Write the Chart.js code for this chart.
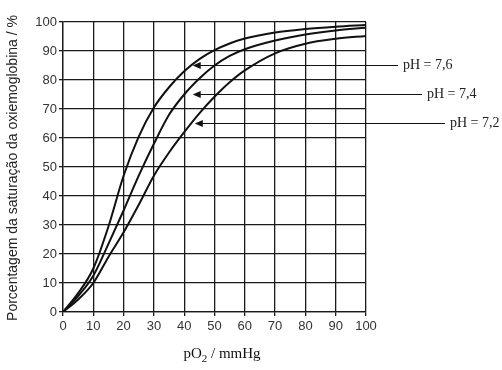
<!DOCTYPE html>
<html><head><meta charset="utf-8">
<script src="https://cdn.jsdelivr.net/npm/chart.js@4/dist/chart.umd.min.js"></script>
<style>html,body{margin:0;padding:0;background:#fff}canvas{display:block}</style>
</head><body>
<canvas id="c" width="502" height="370"></canvas>
<script>
// ---- data ----
const pO2      = [0, 5, 10, 15, 20, 25, 30, 35, 40, 45, 50, 55, 60, 70, 80, 90, 100];
const satPH76  = [0, 6.5, 15, 29.5, 47, 60.5, 70.5, 77.5, 83, 87.2, 90.3, 92.6, 94.3, 96.4, 97.6, 98.4, 99];
const satPH74  = [0, 5.5, 12.5, 23.5, 35, 47, 58, 68, 75, 80.5, 85, 88.3, 90.6, 93.6, 95.7, 97.1, 98];
const satPH72  = [0, 4.3, 10, 19, 27.5, 37, 47, 55, 62, 68.5, 74.2, 79.2, 83.3, 89.2, 92.5, 94.2, 95.2];
const xTickValues = [0, 10, 20, 30, 40, 50, 60, 70, 80, 90, 100];
const yTickValues = [0, 10, 20, 30, 40, 50, 60, 70, 80, 90, 100];
const phLabels   = ['pH = 7,6', 'pH = 7,4', 'pH = 7,2'];
const arrowSat   = [85, 75, 65];
const arrowTipPO2 = [42.8, 42.8, 43.5];
const yTitle = 'Porcentagem da saturação da oxiemoglobina / %';

const INK = '#111';
const toPts = ys => pO2.map((x, i) => ({x, y: ys[i]}));

const overlay = {
  id: 'overlay',
  afterDraw(chart) {
    const ctx = chart.ctx, xs = chart.scales.x, ys = chart.scales.y;
    ctx.save();
    ctx.fillStyle = '#222';
    ctx.font = '14px "Liberation Sans", Arial, sans-serif';
    ctx.textAlign = 'center'; ctx.textBaseline = 'middle';
    ctx.translate(13, 168); ctx.rotate(-Math.PI / 2);
    ctx.fillText(yTitle, 0, 0);
    ctx.restore();

    ctx.save();
    ctx.fillStyle = '#111';
    ctx.textBaseline = 'alphabetic'; ctx.textAlign = 'left';
    const f1 = '15px "Liberation Serif", "Times New Roman", serif';
    const f2 = '11px "Liberation Serif", "Times New Roman", serif';
    ctx.font = f1; const w1 = ctx.measureText('pO').width;
    ctx.font = f2; const w2 = ctx.measureText('2').width;
    ctx.font = f1; const w3 = ctx.measureText(' / mmHg').width;
    let x0 = 222 - (w1 + w2 + w3) / 2, base = 358;
    ctx.font = f1; ctx.fillText('pO', x0, base);
    ctx.font = f2; ctx.fillText('2', x0 + w1, base + 4);
    ctx.font = f1; ctx.fillText(' / mmHg', x0 + w1 + w2, base);
    ctx.restore();

    const lineEnds = [398, 422, 445];
    ctx.save();
    ctx.strokeStyle = INK; ctx.fillStyle = INK; ctx.lineWidth = 1.2;
    ctx.font = '14px "Liberation Serif", "Times New Roman", serif';
    ctx.textBaseline = 'middle'; ctx.textAlign = 'left';
    phLabels.forEach((lab, i) => {
      const y = ys.getPixelForValue(arrowSat[i]);
      const tip = xs.getPixelForValue(arrowTipPO2[i]);
      ctx.beginPath(); ctx.moveTo(tip + 6, y); ctx.lineTo(lineEnds[i], y); ctx.stroke();
      ctx.beginPath(); ctx.moveTo(tip, y); ctx.lineTo(tip + 8, y - 3.5); ctx.lineTo(tip + 8, y + 3.5); ctx.closePath(); ctx.fill();
      ctx.fillStyle = '#222';
      ctx.fillText(lab, lineEnds[i] + 5, y);
      ctx.fillStyle = INK;
    });
    ctx.restore();
  }
};

const ds = (data) => ({
  data: toPts(data), borderColor: INK, borderWidth: 2, pointRadius: 0,
  fill: false, cubicInterpolationMode: 'monotone'
});

new Chart(document.getElementById('c'), {
  type: 'line',
  data: { datasets: [ds(satPH76), ds(satPH74), ds(satPH72)] },
  options: {
    responsive: false, animation: false, devicePixelRatio: 1,
    layout: { padding: { top: 22, right: 136, left: 0, bottom: 0 } },
    plugins: { legend: { display: false }, tooltip: { enabled: false } },
    scales: {
      x: {
        type: 'linear', min: 0, max: 100,
        afterBuildTicks: s => { s.ticks = xTickValues.map(v => ({value: v})); },
        afterFit: s => { s.height = 58; },
        grid: { color: '#1a1a1a', lineWidth: 1.3, tickLength: 4 },
        border: { color: '#1a1a1a', width: 1.3 },
        ticks: { color: '#333', font: { family: '"Liberation Sans", Arial, sans-serif', size: 13 }, padding: 3, maxRotation: 0 }
      },
      y: {
        min: 0, max: 100,
        afterBuildTicks: s => { s.ticks = yTickValues.map(v => ({value: v})); },
        afterFit: s => { s.width = 63; },
        grid: { color: '#1a1a1a', lineWidth: 1.3, tickLength: 4 },
        border: { color: '#1a1a1a', width: 1.3 },
        ticks: { color: '#333', font: { family: '"Liberation Sans", Arial, sans-serif', size: 13 }, padding: 2 }
      }
    }
  },
  plugins: [overlay]
});
</script>
</body></html>
